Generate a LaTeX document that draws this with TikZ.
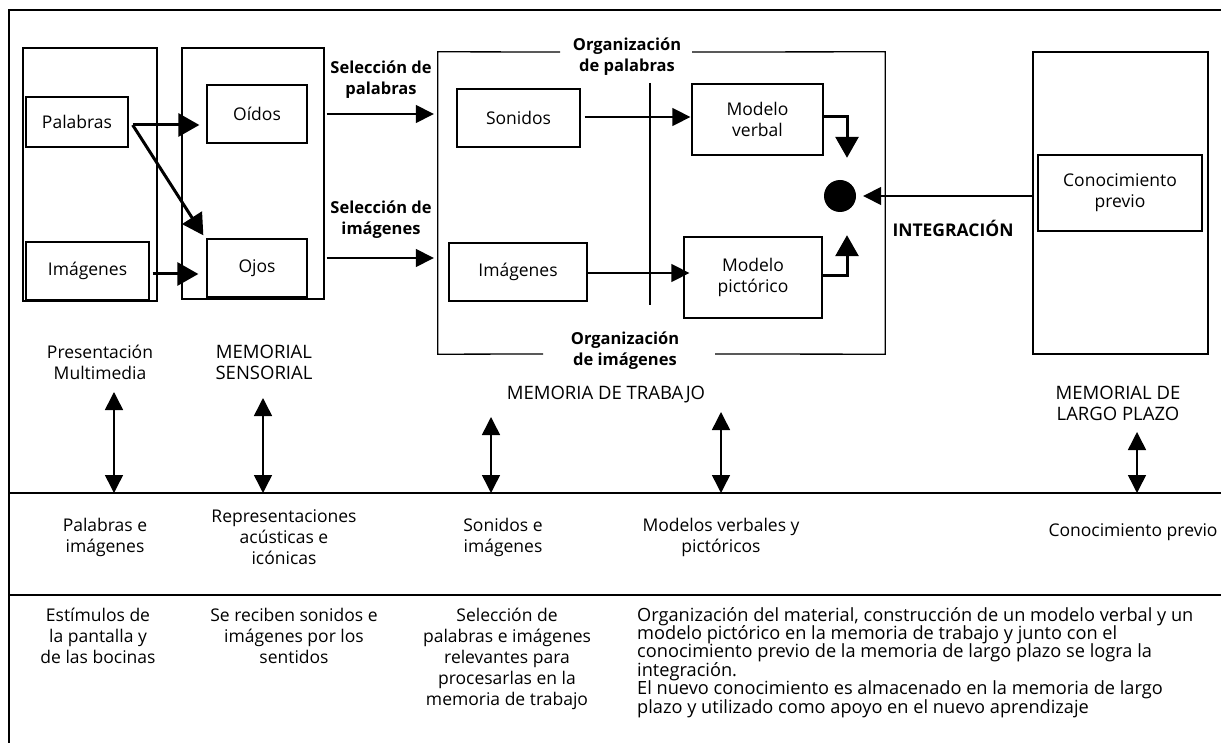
\documentclass[tikz,border=0pt]{standalone}
\usepackage{fontspec}
\setmainfont{Open Sans}
\usetikzlibrary{arrows.meta,calc}
\newcommand\txtsz{\fontsize{17.5}{21}\selectfont}
\newcommand\capsz{\fontsize{18.5}{21}\selectfont}
\newcommand\boldsz{\fontsize{16.5}{21}\selectfont\bfseries}
\newcommand\parsz{\fontsize{18.2}{18.4}\selectfont}
\begin{document}
\begin{tikzpicture}[x=1pt,y=-1pt,
  box/.style={draw, line width=1.3pt, inner sep=0pt, align=center, font=\txtsz},
  lbl/.style={inner sep=0pt, align=center, font=\txtsz},
  clbl/.style={inner sep=0pt, align=center, font=\capsz},
  blbl/.style={inner sep=0pt, align=center, font=\boldsz},
  frame/.style={line width=2.4pt},
  rule/.style={line width=1.8pt},
  thickarr/.style={line width=3pt, -{Triangle[length=21pt,width=23pt]}},
  thinarr/.style={line width=1.5pt, -{Triangle[length=18pt,width=18pt]}},
  dblarr/.style={line width=1.5pt, {Triangle[length=18pt,width=18pt]}-{Triangle[length=18pt,width=18pt]}}
]
\useasboundingbox (0,0) rectangle (1221,743);
% outer frame and rules
\draw[frame] (9,743) -- (9,10) -- (1221,10);
\coordinate (hl1) at (9,493);
\coordinate (hl2) at (9,595);
\draw[rule] (hl1) -- (1221,493);
\draw[rule] (hl2) -- (1221,595);
% presentation column
\node[box, minimum width=134pt, minimum height=253pt] (pres) at (90,174.5) {};
\node[box, minimum width=102pt, minimum height=50pt] (pal) at (77,122) {Palabras};
\node[box, minimum width=123pt, minimum height=58pt] (imgl) at (87.5,271) {Imágenes};
% sensory
\node[box, minimum width=142pt, minimum height=251pt] (sens) at (253,173.5) {};
\node[box, minimum width=100pt, minimum height=58pt] (oid) at (257,114) {Oídos};
\node[box, minimum width=100pt, minimum height=58pt] (ojos) at (257,268) {Ojos};
% working memory
\node[minimum width=447pt, minimum height=302pt, inner sep=0pt] (wm) at (661.5,203) {};
\draw[line width=1.3pt] (560,52) -- (wm.north west) -- (wm.south west) -- (543,354);
\draw[line width=1.3pt] (715,354) -- (wm.south east) -- (wm.north east) -- (692,52);
\node[box, minimum width=123pt, minimum height=58pt] (son) at (518.5,118) {Sonidos};
\node[box, minimum width=131pt, minimum height=71pt] (mv) at (757.5,119.5) {Modelo\\verbal};
\node[box, minimum width=138pt, minimum height=58pt] (imgw) at (518,272) {Imágenes};
\node[box, minimum width=138pt, minimum height=81pt] (mp) at (753,277.5) {Modelo\\pictórico};
\coordinate (vtop) at (650,83);
\coordinate (vbot) at (650,305);
\draw[line width=1.5pt] (vtop) -- (vbot);
\node[circle, fill=black, minimum size=32pt, inner sep=0pt] (dot) at (840,196) {};
% long term memory
\node[box, minimum width=175pt, minimum height=302pt] (ltm) at (1120.5,203) {};
\node[box, minimum width=164pt, minimum height=76pt] (cp) at (1120,193) {Conocimiento\\previo};
% bold labels
\node[blbl] (selp) at (381,80) {Selección de\\palabras};
\node[blbl] (seli) at (381,220) {Selección de\\imágenes};
\node[blbl] (orgp) at (627,57) {Organización\\de palabras};
\node[blbl] (orgi) at (625,351) {Organización\\de imágenes};
\node[blbl, font=\fontsize{17.5}{21}\selectfont\bfseries] (integ) at (953,228) {INTEGRACIÓN};
% arrows top
\draw[thickarr] ($(pal.east)+(4,3)$) -- ($(oid.west)+(-7,11)$);
\draw[thickarr] ($(pal.east)+(4,3)$) -- ($(ojos.north west)+(-3,-3)$);
\draw[thickarr] ($(imgl.east)+(3,3)$) -- ($(ojos.west)+(-8,6)$);
\draw[thinarr] ($(sens.east |- oid.east)+(2,0)$) -- ($(wm.west |- oid.east)+(-4,0)$);
\draw[thinarr] ($(sens.east |- ojos.east)+(2,-10)$) -- ($(wm.west |- ojos.east)+(-4,-10)$);
\draw[thinarr] ($(son.east)+(4,-1)$) -- ($(mv.west)+(-1,-2.5)$);
\draw[thinarr] ($(imgw.east)+(0,1)$) -- ($(mp.west)+(6,-4.5)$);
\draw[thickarr] ($(mv.east)+(0,-2.5)$) -| ($(dot.north)+(7,-22)$);
\draw[thickarr] ($(mp.east)+(0,-1.5)$) -| ($(dot.south)+(7,23)$);
\draw[thinarr] (ltm.west |- dot.east) -- ($(dot.east)+(7,0)$);
% level labels
\node[lbl] (lpres) at (100,362) {Presentación\\Multimedia};
\node[clbl] (lsens) at (264,362) {MEMORIAL\\SENSORIAL};
\node[clbl] (lwm) at (606,395) {MEMORIA DE TRABAJO};
\node[clbl] (lltm) at (1118,403) {MEMORIAL DE\\LARGO PLAZO};
% double arrows
\coordinate (d1) at (114,392);
\coordinate (d2) at (263,398);
\coordinate (d3) at (491,417);
\coordinate (d4) at (721,412);
\coordinate (d5) at (1137,432);
\draw[dblarr] (d1) -- (d1 |- hl1);
\draw[dblarr] (d2) -- (d2 |- hl1);
\draw[dblarr] (d3) -- (d3 |- hl1);
\draw[dblarr] (d4) -- (d4 |- hl1);
\draw[dblarr] (d5) -- (d5 |- hl1);
% row 2
\node[lbl] (r2a) at (105,537) {Palabras e\\imágenes};
\node[lbl] (r2b) at (284,537) {Representaciones\\acústicas e\\icónicas};
\node[lbl] (r2c) at (503,537) {Sonidos e\\imágenes};
\node[lbl] (r2d) at (721,537) {Modelos verbales y\\pictóricos};
\node[lbl] (r2e) at (1133,532) {Conocimiento previo};
% row 3
\node[lbl, anchor=north] (r3a) at (98,608) {Estímulos de\\la pantalla y\\de las bocinas};
\node[lbl, anchor=north] (r3b) at (294,608) {Se reciben sonidos e\\imágenes por los\\sentidos};
\node[lbl, anchor=north] (r3c) at (507,608) {Selección de\\palabras e imágenes\\relevantes para\\procesarlas en la\\memoria de trabajo};
\node[inner sep=0pt, align=left, font=\parsz, anchor=north west] (r3d) at (637,607) {Organización del material, construcción de un modelo verbal y un\\modelo pictórico en la memoria de trabajo y junto con el\\conocimiento previo de la memoria de largo plazo se logra la\\integración.\\El nuevo conocimiento es almacenado en la memoria de largo\\plazo y utilizado como apoyo en el nuevo aprendizaje};
\end{tikzpicture}
\end{document}
